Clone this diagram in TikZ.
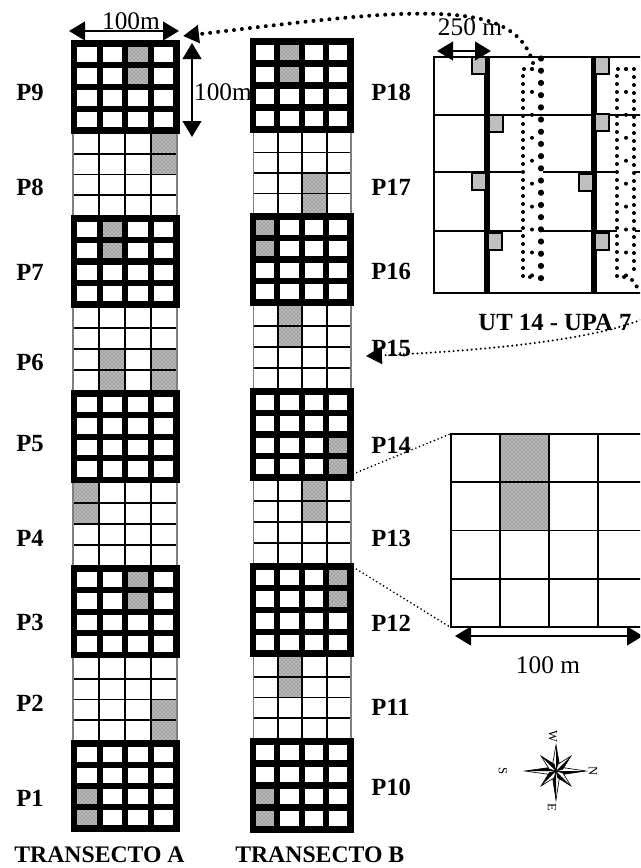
\documentclass[tikz,border=0pt]{standalone}
\usepackage{fontspec}
\setmainfont{Liberation Serif}
\usetikzlibrary{arrows.meta,patterns}

\tikzset{
    rotulo/.style={font=\fontsize{18.5}{20}\selectfont\bfseries, inner sep=0pt},
    titulo/.style={font=\fontsize{17.8}{20}\selectfont\bfseries, inner sep=0pt},
    medida/.style={font=\fontsize{19}{20}\selectfont, inner sep=0pt},
    grossa/.style={line width=4.6pt},
    fina/.style={line width=1.35pt},
    celda/.style={fill=black!36, postaction={pattern=crosshatch dots, pattern color=white}},
    seta/.style={line width=1.6pt, {Triangle[length=12pt,width=14pt]}-{Triangle[length=12pt,width=14pt]}},
    pontosA/.style={line width=3pt, line cap=round, dash pattern=on 0pt off 6pt},
    pontosB/.style={line width=3.8pt, line cap=round, dash pattern=on 0.8pt off 8.35pt},
    pontosC/.style={line width=3pt, line cap=round, dash pattern=on 0pt off 17.2pt},
    pontosD/.style={line width=1.7pt, line cap=round, dash pattern=on 0pt off 3.4pt},
    pontosE/.style={line width=1.4pt, line cap=round, dash pattern=on 0pt off 3pt},
    ponta/.style={-{Triangle[length=12pt,width=13pt]}},
}

% #1 estilo, #2 x esq, #3 y topo, #4 x dir, #5 y base
\newcommand{\rejilla}[5]{
    \foreach \k in {1,2,3} {
        \draw[#1] ({#2+(#4-#2)*\k/4},#3) -- ({#2+(#4-#2)*\k/4},#5);
        \draw[#1] (#2,{#3+(#5-#3)*\k/4}) -- (#4,{#3+(#5-#3)*\k/4});
    }
}

\begin{document}
\begin{tikzpicture}[x=0.75pt,y=-0.75pt]
    \useasboundingbox (0,0) rectangle (640,868);
    \clip (0,0) rectangle (640,868);

    % -------------------------------
    % Transecto A
    % -------------------------------
    \foreach \ya/\yb/\c/\r in {43.5/130.5/2/0, 133/216/3/0, 218.5/304.5/1/0, 307/391/1/2, 307/391/3/2,
                               482/566/0/0, 568.5/655/2/0, 658/741/3/2, 743.5/828.5/0/2} {
        \fill[celda] ({74+25.6*\c},{\ya+(\yb-\ya)*\r/4}) rectangle ++(25.6,{(\yb-\ya)/2});
    }
    \foreach \ya/\yb in {133/216, 307/391, 482/566, 658/741} {
        \rejilla{fina}{73}{\ya}{177}{\yb}
        \draw[fina,gray] (73,\ya) -- (73,\yb) (177,\ya) -- (177,\yb);
    }
    \foreach \ya/\yb in {43.5/130.5, 218.5/304.5, 393.5/480, 568.5/655, 743.5/828.5} {
        \rejilla{grossa}{74}{\ya}{176.5}{\yb}
        \draw[grossa] (74,\ya) rectangle (176.5,\yb);
    }
    \foreach \n/\y in {9/92, 8/187, 7/272, 6/362, 5/444, 4/538, 3/622, 2/703, 1/798} {
        \node[rotulo,anchor=west] (p\n) at (16,\y) {P\n};
    }
    \node[titulo] (transA) at (99.5,855) {TRANSECTO A};

    % -------------------------------
    % Transecto B
    % -------------------------------
    \foreach \ya/\yb/\c/\r in {41.5/129.5/1/0, 132/214/2/2, 216.5/302.5/0/0, 305/389/1/0,
                               391.5/477.5/3/2, 480/564/2/0, 566.5/653.5/3/0, 656/739/1/0, 741.5/829.5/0/2} {
        \fill[celda] ({253+24.4*\c},{\ya+(\yb-\ya)*\r/4}) rectangle ++(24.4,{(\yb-\ya)/2});
    }
    \foreach \ya/\yb in {132/214, 305/389, 480/564, 656/739} {
        \rejilla{fina}{253.5}{\ya}{351}{\yb}
        \draw[fina,gray] (253.5,\ya) -- (253.5,\yb) (351,\ya) -- (351,\yb);
    }
    \foreach \ya/\yb in {41.5/129.5, 216.5/302.5, 391.5/477.5, 566.5/653.5, 741.5/829.5} {
        \rejilla{grossa}{253}{\ya}{350.5}{\yb}
        \draw[grossa] (253,\ya) rectangle (350.5,\yb);
    }
    \foreach \n/\y in {18/92, 17/187, 16/271, 15/348, 14/445, 13/538, 12/623, 11/707, 10/787} {
        \node[rotulo,anchor=west] (p\n) at (371,\y) {P\n};
    }
    \node[titulo,anchor=west] (transB) at (235,855) {TRANSECTO B};

    % medidas da parcela
    \coordinate (h1) at (69,31);
    \coordinate (h2) at (179,31);
    \coordinate (v1) at (192,43);
    \coordinate (v2) at (192,137);
    \draw[seta] (h1) -- (h2);
    \draw[seta] (v1) -- (v2);
    \node[medida] (m100a) at (131,21) {100m};
    \node[medida] (m100b) at (223,92) {100m};

    % -------------------------------
    % UT 14 - UPA 7
    % -------------------------------
    \draw[line width=1.4pt] (650,57) -- (434,57) -- (434,293) -- (650,293);
    \draw[fina] (434,115) -- (650,115);
    \foreach \y in {172,231} {
        \draw[fina] (434,\y) -- (522,\y) (543,\y) -- (617,\y) (635,\y) -- (640,\y);
    }
    \draw[line width=4.4pt] (487,57) -- (487,292) (594,57) -- (594,292);
    \foreach \x/\y in {472/57, 489/115, 472/173, 488/233, 595/57, 595/114, 579/174, 595/233} {
        \draw[line width=1.3pt,fill=black!25] (\x,\y) rectangle ++(14,17);
    }
    \draw[pontosA] (532,69) -- (523,69) -- (523,277) -- (532,277);
    \draw[pontosC] (532,69) -- (532,277);
    \draw[pontosB] (541,58) -- (541,279);
    \draw[pontosA] (626,69) -- (617,69) -- (617,277) -- (626,277);
    \draw[pontosC] (626,69) -- (626,277);
    \draw[pontosA] (634,69) -- (634,270);
    \draw[pontosA] (632,280) -- (640,291);
    \node[rotulo] (ut) at (555,322) {UT 14 - UPA 7};
    \coordinate (w1) at (437,51);
    \coordinate (w2) at (491,51);
    \draw[seta] (w1) -- (w2);
    \node[medida] (m250) at (470,27) {250 m};

    % ligacoes pontilhadas
    \coordinate (c1) at (533,63);
    \coordinate (c2) at (400,14);
    \coordinate (c3) at (183,36);
    \coordinate (c4) at (645,318);
    \coordinate (c5) at (366,356);
    \draw[pontosA,ponta] (c1) .. controls (520,18) and (470,12) .. (c2) .. controls (345,16) and (260,27) .. (c3);
    \draw[pontosD,ponta] (c4) .. controls (600,338) and (500,350) .. (c5);

    % -------------------------------
    % Parcela ampliada
    % -------------------------------
    \fill[celda] (500,434) rectangle (549,531);
    \draw[fina] (650,434) -- (451,434) -- (451,627) -- (650,627);
    \rejilla{fina}{451}{434}{647}{627}
    \coordinate (z1) at (353,474);
    \coordinate (z2) at (450,434);
    \coordinate (z3) at (353,567);
    \coordinate (z4) at (450,627);
    \draw[pontosE] (z1) -- (z2);
    \draw[pontosE] (z3) -- (z4);
    \coordinate (b1) at (455,636);
    \coordinate (b2) at (643,636);
    \draw[seta] (b1) -- (b2);
    \node[medida] (m100c) at (548,665) {100 m};

    % -------------------------------
    % Rosa dos ventos
    % -------------------------------
    \begin{scope}[shift={(556,771)}]
        \foreach \a/\r in {0/30, 90/29, 180/31, 270/26, 45/21, 135/21, 225/21, 315/21} {
            \draw[line width=0.5pt,fill=white] (0,0) -- (\a+30:7) -- (\a:\r) -- (\a-30:7) -- cycle;
            \fill[black] (0,0) -- (\a+30:7) -- (\a:\r) -- cycle;
        }
        \foreach \n/\x/\y in {N/37/0, W/-3/-35, S/-53/0, E/-4/36} {
            \node[rotate=-90,font=\fontsize{9.5}{10}\selectfont,inner sep=0pt] (rosa\n) at (\x,\y) {\n};
        }
    \end{scope}

\end{tikzpicture}
\end{document}
